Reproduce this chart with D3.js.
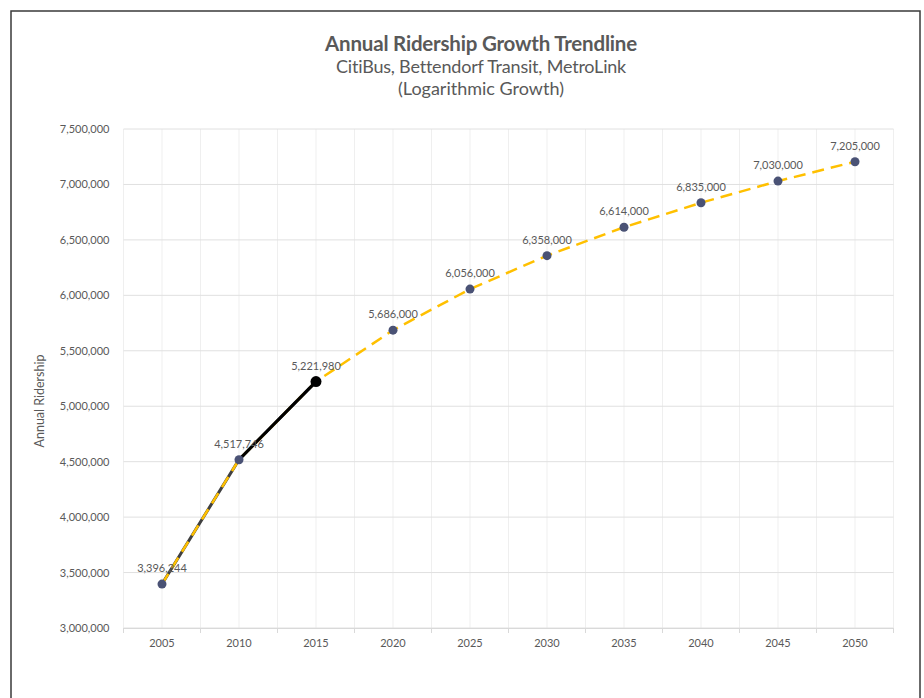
<!DOCTYPE html>
<html lang="en">
<head>
<meta charset="UTF-8">
<title>Annual Ridership Growth Trendline</title>
<style>
	body { margin: 0; background: #fff; }
	text { font-family: Lato, "Open Sans", sans-serif; fill: #595959; }
</style>
<script src="https://d3js.org/d3.v7.min.js"></script>
</head>
<body>
<script type="text/javascript">
// data
const years = ["2005", "2010", "2015", "2020", "2025", "2030", "2035", "2040", "2045", "2050"]
const trendValues = [3396244, 4517746, 5221980, 5686000, 6056000, 6358000, 6614000, 6835000, 7030000, 7205000]
const historyYears = ["2005", "2010", "2015"]
const historyValues = [3396244, 4517746, 5221980]
const recentYears = ["2010", "2015"]
const recentValues = [4517746, 5221980]
const yTicks = [3000000, 3500000, 4000000, 4500000, 5000000, 5500000, 6000000, 6500000, 7000000, 7500000]

const width = 924
const height = 698
const margin = { left: 123.5, right: 30.5, top: 129, bottom: 70 }

const svg = d3.select("body").append("svg")
	.attr("width", width)
	.attr("height", height)

// outer frame
svg.append("rect")
	.attr("x", 11).attr("y", 11)
	.attr("width", 909).attr("height", 700)
	.attr("fill", "none")
	.attr("stroke", "#3a3a3a")
	.attr("stroke-width", 1.5)

const x = d3.scaleBand()
	.domain(years)
	.range([margin.left, width - margin.right])

const y = d3.scaleLinear()
	.domain([3000000, 7500000])
	.range([height - margin.bottom, margin.top])

const fmt = d3.format(",")

// vertical gridlines: band centers and band edges
const gridX = []
years.forEach(function(d) {
	gridX.push(x(d))
	gridX.push(x(d) + x.bandwidth() / 2)
})
gridX.push(x.range()[1])

svg.selectAll(".vgrid")
	.data(gridX)
	.join("line")
	.attr("class", "vgrid")
	.attr("x1", d => d).attr("x2", d => d)
	.attr("y1", y(7500000)).attr("y2", y(3000000))
	.attr("stroke", "#efefef")
	.attr("stroke-width", 1)

// horizontal gridlines
svg.selectAll(".hgrid")
	.data(yTicks)
	.join("line")
	.attr("class", "hgrid")
	.attr("x1", x.range()[0]).attr("x2", x.range()[1])
	.attr("y1", d => y(d)).attr("y2", d => y(d))
	.attr("stroke", "#e0e0e0")
	.attr("stroke-width", 1)

// y axis labels
const yAxis = svg.append("g")
	.attr("transform", "translate(" + (margin.left - 14) + ",0)")
	.call(d3.axisLeft(y).tickValues(yTicks).tickFormat(fmt).tickSize(0))
yAxis.select(".domain").remove()
yAxis.selectAll("text")
	.style("font-size", "11px")
	.attr("fill", "#595959")
	.attr("x", 0)

// x axis
const xAxis = svg.append("g")
	.attr("transform", "translate(0," + y(3000000) + ")")
	.call(d3.axisBottom(x).tickSize(0).tickPadding(11))
xAxis.select(".domain").attr("stroke", "#d9d9d9")
xAxis.selectAll("text")
	.style("font-size", "11px")
	.attr("fill", "#595959")

// tick marks at band edges
const edges = years.map(d => x(d)).concat([x.range()[1]])
svg.selectAll(".xtick")
	.data(edges)
	.join("line")
	.attr("class", "xtick")
	.attr("x1", d => d).attr("x2", d => d)
	.attr("y1", y(3000000)).attr("y2", y(3000000) + 5)
	.attr("stroke", "#d9d9d9")

const cx = d => x(d) + x.bandwidth() / 2

// historical line (dark grey) under the trend
const histLine = d3.line()
	.x((d, i) => cx(historyYears[i]))
	.y(d => y(d))
svg.append("path")
	.datum(historyValues)
	.attr("d", histLine)
	.attr("fill", "none")
	.attr("stroke", "#404040")
	.attr("stroke-width", 3)

// trend line (yellow dashed)
const trendLine = d3.line()
	.x((d, i) => cx(years[i]))
	.y(d => y(d))
svg.append("path")
	.datum(trendValues)
	.attr("d", trendLine)
	.attr("fill", "none")
	.attr("stroke", "#FFC000")
	.attr("stroke-width", 2.5)
	.attr("stroke-dasharray", "12,7")

// recent actuals (black)
const recentLine = d3.line()
	.x((d, i) => cx(recentYears[i]))
	.y(d => y(d))
svg.append("path")
	.datum(recentValues)
	.attr("d", recentLine)
	.attr("fill", "none")
	.attr("stroke", "#000")
	.attr("stroke-width", 3)

// trend markers
svg.selectAll(".dot")
	.data(trendValues)
	.join("circle")
	.attr("class", "dot")
	.attr("cx", (d, i) => cx(years[i]))
	.attr("cy", d => y(d))
	.attr("r", 4.5)
	.attr("fill", "#4A5275")

// latest actual marker
svg.append("circle")
	.attr("cx", cx(recentYears[recentYears.length - 1]))
	.attr("cy", y(recentValues[recentValues.length - 1]))
	.attr("r", 5.5)
	.attr("fill", "#000")

// data labels
svg.selectAll(".lbl")
	.data(trendValues)
	.join("text")
	.attr("class", "lbl")
	.attr("x", (d, i) => cx(years[i]))
	.attr("y", d => y(d) - 12)
	.attr("text-anchor", "middle")
	.style("font-size", "11px")
	.text(d => fmt(d))

// titles
svg.append("text")
	.attr("x", 481).attr("y", 51)
	.attr("text-anchor", "middle")
	.style("font-size", "20.5px")
	.style("font-weight", "bold")
	.style("letter-spacing", "-0.2px")
	.text("Annual Ridership Growth Trendline")
svg.append("text")
	.attr("x", 481).attr("y", 73)
	.attr("text-anchor", "middle")
	.style("font-size", "18px")
	.style("letter-spacing", "-0.2px")
	.text("CitiBus, Bettendorf Transit, MetroLink")
svg.append("text")
	.attr("x", 481).attr("y", 95)
	.attr("text-anchor", "middle")
	.style("font-size", "18px")
	.text("(Logarithmic Growth)")

// y axis title
svg.append("text")
	.attr("transform", "translate(44,401) rotate(-90)")
	.attr("text-anchor", "middle")
	.style("font-size", "12.5px")
	.text("Annual Ridership")
</script>
</body>
</html>
